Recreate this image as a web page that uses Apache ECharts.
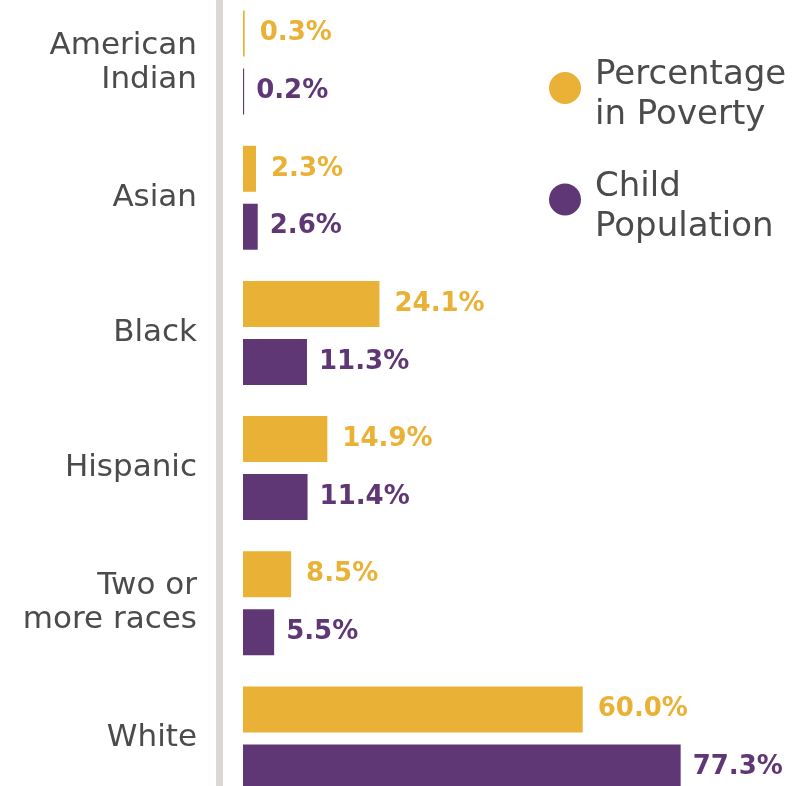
<!DOCTYPE html>
<html>
<head>
<meta charset="utf-8">
<script src="https://cdn.jsdelivr.net/npm/echarts@6/dist/echarts.min.js"></script>
<style>
html,body{margin:0;padding:0;background:#fff;}
#chart{width:809px;height:786px;}
</style>
</head>
<body>
<div id="chart"></div>
<script>
const categories = ['American\nIndian', 'Asian', 'Black', 'Hispanic', 'Two or\nmore races', 'White'];
const povertyValues = [0.3, 2.3, 24.1, 14.9, 8.5, 60.0];
const populationValues = [0.2, 2.6, 11.3, 11.4, 5.5, 77.3];
const seriesNames = ['Percentage\nin Poverty', 'Child\nPopulation'];

const GOLD = '#E9B135';
const PURPLE = '#5F3775';
const TEXT = '#4b4b4b';
const FONT = '"DejaVu Sans", sans-serif';

const chart = echarts.init(document.getElementById('chart'));
const labelFmt = p => p.value.toFixed(1) + '%';
chart.setOption({
  backgroundColor: '#ffffff',
  animation: false,
  grid: { left: 243, right: -3, top: -5, bottom: -20, containLabel: false, outerBoundsMode: 'none' },
  legend: {
    orient: 'vertical',
    left: 549,
    top: 43,
    padding: 0,
    itemGap: 22,
    icon: 'circle',
    itemWidth: 50,
    itemHeight: 32,
    data: seriesNames,
    formatter: name => '{s| }\n' + name.split('\n').map(l => '{t|' + l + '}').join('\n'),
    textStyle: {
      color: TEXT, fontSize: 34, fontFamily: FONT,
      rich: {
        s: { fontSize: 10, lineHeight: 15, fontFamily: FONT },
        t: { color: TEXT, fontSize: 34, lineHeight: 40, fontFamily: FONT }
      }
    }
  },
  xAxis: { type: 'value', min: 0, max: 100.5, show: false },
  yAxis: {
    type: 'category',
    inverse: true,
    data: categories,
    offset: 24,
    axisLine: { show: true, onZero: false, lineStyle: { color: '#d9d8d4', width: 7 } },
    axisTick: { show: false },
    axisLabel: {
      margin: 22, color: TEXT, fontSize: 31, lineHeight: 34, fontFamily: FONT, align: 'right'
    },
    splitLine: { show: false }
  },
  series: [
    {
      name: seriesNames[0], type: 'bar', data: povertyValues,
      barWidth: 46, barGap: '26%',
      itemStyle: { color: GOLD },
      label: { show: true, position: 'right', distance: 15, formatter: labelFmt,
        color: GOLD, fontSize: 26, fontWeight: 'bold', fontFamily: FONT }
    },
    {
      name: seriesNames[1], type: 'bar', data: populationValues,
      barWidth: 46, barGap: '26%',
      itemStyle: { color: PURPLE },
      label: { show: true, position: 'right', distance: 12, formatter: labelFmt,
        color: PURPLE, fontSize: 26, fontWeight: 'bold', fontFamily: FONT }
    }
  ]
});
</script>
</body>
</html>
